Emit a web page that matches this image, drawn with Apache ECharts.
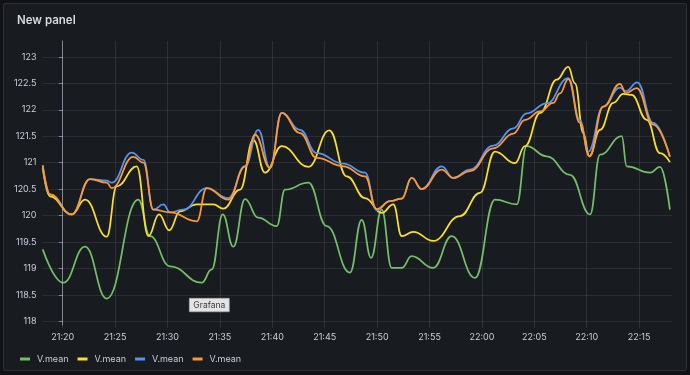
<!DOCTYPE html>
<html>
<head>
<meta charset="utf-8">
<script src="https://cdn.jsdelivr.net/npm/echarts@6/dist/echarts.min.js"></script>
<style>
  html, body { margin: 0; padding: 0; background: #111217; }
  #panel { position: absolute; left: 3px; top: 3px; width: 682px; height: 366px; background: #181b1f;
           border: 1px solid rgba(204,204,220,0.12); border-radius: 3px; }
  #chart { position: absolute; left: 0; top: 0; width: 690px; height: 375px; }
</style>
</head>
<body>
<div id="panel"></div>
<div id="chart"></div>
<script>
// minutes after 21:20
const yTicks = [118, 118.5, 119, 119.5, 120, 120.5, 121, 121.5, 122, 122.5, 123];
const xTicks = [0, 5, 10, 15, 20, 25, 30, 35, 40, 45, 50, 55];
const seriesNames = ['V.mean', 'V.mean', 'V.mean', 'V.mean'];

const greenT = [-1.91, 0.06, 2.13, 4.20, 7.21, 8.33, 10.24, 13.26, 14.22, 15.27, 16.28, 17.40, 18.64, 20.42, 21.21, 23.44, 25.19, 27.41, 28.53, 29.42, 30.44, 31.39, 32.35, 33.30, 35.36, 37.12, 39.34, 41.25, 43.32, 44.27, 46.18, 48.41, 50.32, 51.27, 53.34, 53.82, 56.04, 56.99, 57.94];
const greenV = [119.36, 118.73, 119.41, 118.43, 120.30, 119.61, 119.04, 118.73, 118.98, 120.02, 119.41, 120.31, 119.96, 119.80, 120.49, 120.62, 119.80, 118.92, 119.92, 119.20, 120.11, 119.01, 119.01, 119.23, 119.01, 119.61, 118.82, 120.30, 120.21, 121.31, 121.12, 120.77, 120.02, 121.15, 121.50, 120.93, 120.81, 120.92, 120.11];

const yellowT = [-1.91, -1.21, 0.86, 2.13, 4.20, 5.15, 7.06, 8.17, 9.19, 10.17, 11.19, 12.79, 14.37, 15.32, 16.92, 18.19, 19.30, 20.90, 23.44, 25.44, 27.10, 28.85, 30.44, 31.55, 32.35, 33.46, 35.36, 37.91, 39.82, 41.25, 43.16, 44.11, 45.56, 47.14, 48.24, 48.88, 49.68, 50.25, 51.27, 52.54, 53.49, 54.29, 55.73, 56.99, 57.94];
const yellowV = [120.90, 120.36, 120.02, 120.30, 119.60, 120.55, 120.93, 119.61, 120.02, 119.72, 120.08, 120.21, 120.21, 120.13, 120.49, 121.43, 120.81, 121.31, 120.92, 121.61, 120.74, 120.33, 120.05, 120.21, 119.61, 119.69, 119.52, 119.99, 120.43, 121.21, 120.99, 121.31, 121.94, 122.57, 122.81, 122.50, 121.56, 121.12, 121.62, 122.13, 122.30, 122.28, 121.81, 121.18, 121.01];

const blueT = [-1.91, -1.21, 0.86, 2.60, 4.20, 4.68, 6.58, 7.70, 8.65, 9.60, 10.24, 11.51, 13.74, 15.80, 17.40, 18.66, 19.78, 20.90, 22.64, 24.24, 26.77, 28.85, 29.96, 31.23, 32.35, 33.30, 34.26, 36.16, 37.27, 38.86, 41.09, 43.00, 44.27, 46.18, 48.24, 49.36, 50.15, 51.58, 53.17, 53.75, 54.82, 56.35, 57.94];
const blueV = [120.95, 120.40, 120.02, 120.69, 120.66, 120.62, 121.19, 121.05, 120.11, 120.21, 120.06, 120.11, 120.52, 120.33, 120.93, 121.62, 120.90, 121.94, 121.62, 121.18, 120.98, 120.81, 120.10, 120.27, 120.32, 120.71, 120.50, 120.93, 120.71, 120.87, 121.32, 121.65, 121.93, 122.12, 122.60, 121.80, 121.21, 122.06, 122.42, 122.35, 122.52, 121.75, 121.11];

const orangeT = [-1.91, -1.21, 0.86, 2.60, 4.20, 4.68, 6.74, 7.70, 8.65, 10.24, 12.79, 13.74, 15.80, 17.40, 18.35, 19.78, 20.90, 22.64, 24.24, 26.77, 28.85, 29.96, 31.23, 32.35, 33.30, 34.26, 36.16, 37.27, 38.86, 41.09, 43.00, 44.11, 45.56, 46.81, 47.45, 48.24, 49.36, 50.25, 51.58, 53.17, 53.75, 54.77, 56.35, 57.94];
const orangeV = [120.95, 120.40, 120.02, 120.69, 120.62, 120.52, 121.11, 121.00, 120.11, 120.06, 119.89, 120.52, 120.30, 120.93, 121.53, 120.90, 121.94, 121.56, 121.09, 120.93, 120.74, 120.12, 120.27, 120.32, 120.71, 120.50, 120.87, 120.71, 120.84, 121.27, 121.55, 121.81, 121.97, 122.13, 122.31, 122.58, 121.75, 121.12, 122.06, 122.49, 122.31, 122.41, 121.72, 121.11];

const colors = ['#73BF69', '#FADE2A', '#5794F2', '#FF9830'];
const allT = [greenT, yellowT, blueT, orangeT];
const allV = [greenV, yellowV, blueV, orangeV];

const TXT = '#ccccdc';
const FONT = 'Inter, "Noto Sans", sans-serif';

function fmtTime(v) {
  const m = 21 * 60 + 20 + Math.round(v);
  return Math.floor(m / 60) + ':' + String(m % 60).padStart(2, '0');
}

const chart = echarts.init(document.getElementById('chart'), null, { renderer: 'canvas' });
chart.setOption({
  backgroundColor: 'transparent',
  animation: false,
  color: colors,
  title: {
    text: 'New panel', left: 12, top: 10,
    textStyle: { color: '#d8d9de', fontSize: 11.5, fontWeight: 600, fontFamily: FONT }
  },
  legend: {
    left: 15, top: 349.5, icon: 'rect', itemWidth: 10, itemHeight: 3, itemGap: 9,
    data: seriesNames.map((n, i) => n + '#' + i),
    formatter: name => name.split('#')[0],
    textStyle: { color: TXT, fontSize: 9, fontFamily: FONT, padding: [0, 0, 0, 2] }
  },
  grid: { left: 42.5, right: 18, top: 41, bottom: 50, containLabel: false },
  xAxis: {
    type: 'value', min: -1.93, max: 58.14,
    axisLine: { show: false },
    axisTick: { show: true, length: 3, lineStyle: { color: 'rgba(204,204,220,0.14)' }, customValues: xTicks },
    axisLabel: { color: TXT, fontSize: 9, fontFamily: FONT, margin: 8, formatter: fmtTime, customValues: xTicks },
    splitLine: { show: true, lineStyle: { color: 'rgba(204,204,220,0.12)', width: 1 } }
  },
  yAxis: {
    type: 'value', min: 117.93, max: 123.30,
    axisLine: { show: true, lineStyle: { color: 'rgba(204,204,220,0.55)', width: 1 } },
    axisTick: { show: true, length: 4, lineStyle: { color: 'rgba(204,204,220,0.55)' }, customValues: yTicks },
    axisLabel: { color: TXT, fontSize: 9, fontFamily: FONT, margin: 6, customValues: yTicks },
    splitLine: { show: true, lineStyle: { color: 'rgba(204,204,220,0.10)', width: 1 } }
  },
  series: allT.map((ts, i) => ({
    name: seriesNames[i] + '#' + i,
    type: 'line',
    smooth: 0.45,
    smoothMonotone: 'x',
    showSymbol: false,
    lineStyle: { width: 1.75, color: colors[i] },
    itemStyle: { color: colors[i] },
    data: ts.map((t, k) => [t, allV[i][k]])
  })),
  graphic: [{
    type: 'group', left: 189, top: 298,
    children: [
      { type: 'rect', shape: { x: 0, y: 0, width: 40, height: 13.5 },
        style: { fill: '#e4e4e6', stroke: '#a8a8ac', lineWidth: 0.6 } },
      { type: 'text', x: 20, y: 7, style: { text: 'Grafana', fill: '#3c3c40', fontSize: 8.5, fontFamily: FONT,
        align: 'center', verticalAlign: 'middle' } }
    ]
  }]
});
</script>
</body>
</html>
